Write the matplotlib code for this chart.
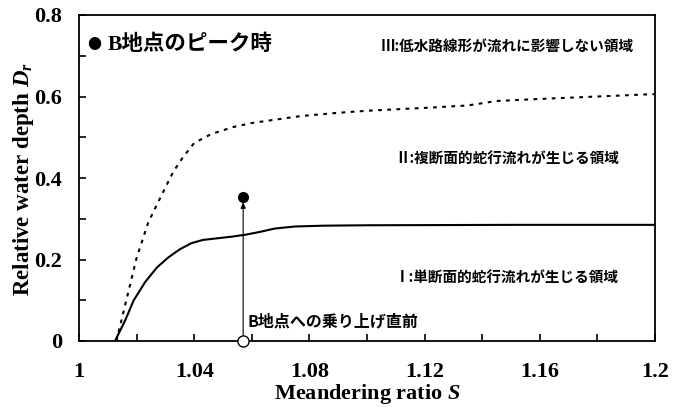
import matplotlib
matplotlib.use("Agg")
import matplotlib.pyplot as plt
from matplotlib.ticker import FixedLocator

plt.rcParams["mathtext.fontset"] = "custom"
plt.rcParams["mathtext.it"] = "Liberation Serif:italic:bold"
plt.rcParams["mathtext.rm"] = "Liberation Serif:bold"

# boundary between region I and II (solid)
s_lower = [1.0125, 1.016, 1.019, 1.023, 1.027, 1.031, 1.035, 1.039, 1.043, 1.048,
           1.053, 1.058, 1.063, 1.068, 1.075, 1.085, 1.10, 1.15, 1.20]
dr_lower = [0.0, 0.05, 0.10, 0.145, 0.18, 0.205, 0.225, 0.240, 0.248, 0.252,
            0.256, 0.261, 0.268, 0.276, 0.281, 0.283, 0.284, 0.285, 0.285]

# boundary between region II and III (dashed)
s_upper = [1.013, 1.0167, 1.020, 1.024, 1.027, 1.0327, 1.036, 1.040, 1.046, 1.0535,
           1.06, 1.077, 1.09, 1.10, 1.12, 1.135, 1.145, 1.16, 1.18, 1.20]
dr_upper = [0.0, 0.108, 0.204, 0.29, 0.334, 0.415, 0.45, 0.486, 0.508, 0.525,
            0.535, 0.552, 0.56, 0.565, 0.572, 0.578, 0.589, 0.594, 0.600, 0.606]

# point B: just before overtopping / at peak
s_b = 1.057
dr_b_before = 0.0
dr_b_peak = 0.353

x_ticks = [1.0, 1.04, 1.08, 1.12, 1.16, 1.2]
x_ticklabels = ["1", "1.04", "1.08", "1.12", "1.16", "1.2"]
y_ticks = [0.0, 0.2, 0.4, 0.6, 0.8]
y_ticklabels = ["0", "0.2", "0.4", "0.6", "0.8"]

region_labels = ["Ⅲ:低水路線形が流れに影響しない領域",
                 "Ⅱ:複断面的蛇行流れが生じる領域",
                 "Ⅰ:単断面的蛇行流れが生じる領域"]

serif = ["Liberation Serif", "Noto Sans CJK JP"]
gothic = ["Noto Sans CJK JP", "DejaVu Sans"]

fig = plt.figure(figsize=(6.88, 4.07), dpi=100)
ax = fig.add_axes([79/688, 1 - 341/407, (655-79)/688, (341-15)/407])

ax.plot(s_lower, dr_lower, color="black", lw=1.5)
ax.plot(s_upper, dr_upper, color="black", lw=1.5, linestyle=(0, (1.8, 2.6)))

ax.annotate("", xy=(s_b, dr_b_peak - 0.012), xytext=(s_b, dr_b_before + 0.012),
            arrowprops=dict(arrowstyle="-|>,head_length=0.35,head_width=0.15",
                            color="black", lw=0.8, shrinkA=0, shrinkB=0))
ax.plot([s_b], [dr_b_peak], "o", color="black", ms=7, zorder=5)
ax.plot([s_b], [dr_b_before], "o", mfc="white", mec="black", mew=1, ms=8,
        zorder=6, clip_on=False)

ax.text(1.0030, 0.726, "●", fontsize=10, va="center", family=gothic)
ax.text(1.0100, 0.726, "B地点のピーク時", fontsize=15.5, fontweight="bold",
        va="center", family=serif)
ax.text(1.1486, 0.725, region_labels[0], fontsize=10.5, fontweight="bold",
        ha="center", va="center", family=gothic)
ax.text(1.1486, 0.45, region_labels[1], fontsize=10.5, fontweight="bold",
        ha="center", va="center", family=gothic)
ax.text(1.1486, 0.158, region_labels[2], fontsize=10.5, fontweight="bold",
        ha="center", va="center", family=gothic)
ax.text(1.0585, 0.047, "B地点への乗り上げ直前", fontsize=11.5, fontweight="bold",
        ha="left", va="center", family=gothic)

ax.set_xlim(1.0, 1.2)
ax.set_ylim(0, 0.8)
ax.xaxis.set_major_locator(FixedLocator(x_ticks))
ax.xaxis.set_minor_locator(FixedLocator([1.02, 1.06, 1.10, 1.14, 1.18]))
ax.yaxis.set_major_locator(FixedLocator(y_ticks))
ax.yaxis.set_minor_locator(FixedLocator([0.1, 0.3, 0.5, 0.7]))
ax.set_xticklabels(x_ticklabels)
ax.set_yticklabels(y_ticklabels)
ax.tick_params(which="both", direction="in", width=1.2, length=5)
ax.tick_params(axis="x", pad=15)
ax.tick_params(axis="y", pad=12)
for lab in ax.get_xticklabels() + ax.get_yticklabels():
    lab.set_family("Liberation Serif")
    lab.set_fontweight("bold")
    lab.set_fontsize(16)
for sp in ax.spines.values():
    sp.set_linewidth(1.3)

ax.set_xlabel("Meandering ratio $S$", fontsize=16, fontweight="bold",
              family="Liberation Serif")
ax.set_ylabel("Relative water depth $D_r$", fontsize=16.5, fontweight="bold",
              family="Liberation Serif")
ax.xaxis.set_label_coords(0.5, -0.127)
ax.yaxis.set_label_coords(-0.075, 0.497)

fig.savefig("out.png", dpi=100)
